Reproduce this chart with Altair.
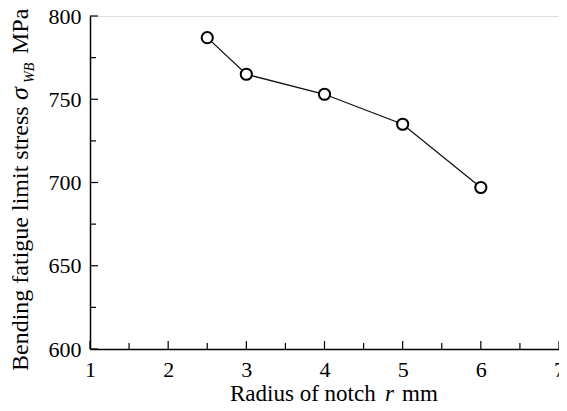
import altair as alt
import pandas as pd

# ---- data ----
radius = [2.5, 3, 4, 5, 6]
stress = [787, 765, 753, 735, 697]
x_ticks_major = [1, 2, 3, 4, 5, 6, 7]
x_ticks_minor = [1.5, 2.5, 3.5, 4.5, 5.5, 6.5]
y_ticks_major = [600, 650, 700, 750, 800]
y_ticks_minor = [625, 675, 725, 775]
x_title_parts = ["Radius of notch", "r", "mm"]
y_title_parts = ["Bending fatigue limit stress", "σ", "WB", "MPa"]

W, H = 469, 333
FONT = "Liberation Serif"
TSIZE = 23

df = pd.DataFrame({"r": radius, "s": stress})
xs = alt.Scale(domain=[1, 7], nice=False, zero=False)
ys = alt.Scale(domain=[600, 800], nice=False, zero=False)

xaxis = alt.Axis(values=x_ticks_major, tickSize=0, grid=False, labelFont=FONT,
                 labelFontSize=22, labelColor="black", labelPadding=10,
                 labelFlush=False, labelOverlap=False, domainColor="black",
                 domainWidth=1.5, title=None, format="d")
yaxis = alt.Axis(values=y_ticks_major, tickSize=0, grid=False, labelFont=FONT,
                 labelFontSize=22, labelColor="black", labelPadding=9,
                 labelFlush=False, labelOverlap=False, domainColor="black",
                 domainWidth=1.5, title=None, format="d")


def X(field):
    return alt.X(field, scale=xs, axis=xaxis)


def Y(field):
    return alt.Y(field, scale=ys, axis=yaxis)


line = alt.Chart(df).mark_line(color="#111", strokeWidth=1.3).encode(x=X("r:Q"), y=Y("s:Q"))
pts = alt.Chart(df).mark_point(shape="circle", filled=True, size=125, color="white",
                               stroke="black", strokeWidth=2, opacity=1).encode(
    x=X("r:Q"), y=Y("s:Q"))


def xticks(vals, length):
    return alt.Chart(pd.DataFrame({"v": vals})).mark_rule(color="black", strokeWidth=1.2).encode(
        x=X("v:Q"), y=alt.value(H), y2=alt.value(H - length))


def yticks(vals, length):
    return alt.Chart(pd.DataFrame({"v": vals})).mark_rule(color="black", strokeWidth=1.2).encode(
        y=Y("v:Q"), x=alt.value(0), x2=alt.value(length))


def txt(s, x, y, size=TSIZE, angle=0, style="normal"):
    return alt.Chart(pd.DataFrame({"t": [s]})).mark_text(
        font=FONT, fontSize=size, fontStyle=style, angle=angle, align="left",
        baseline="alphabetic", color="black").encode(
        text="t:N", x=alt.value(x), y=alt.value(y))


titles = [
    txt(x_title_parts[0], 140, 385),
    txt(x_title_parts[1], 295, 385, style="italic"),
    txt(x_title_parts[2], 312, 385),
    txt(y_title_parts[0], -62, 355, size=24, angle=270),
    txt(y_title_parts[1], -62, 84, size=26, angle=270, style="italic"),
    txt(y_title_parts[2], -56, 67, size=14, angle=270, style="italic"),
    txt(y_title_parts[3], -62, 38, size=24, angle=270),
]

chart = alt.layer(
    xticks(x_ticks_major, 8), xticks(x_ticks_minor, 6),
    yticks(y_ticks_major, 8), yticks(y_ticks_minor, 6),
    line, pts, *titles
).properties(
    width=W, height=H,
    padding={"left": 82, "top": 8, "right": 0, "bottom": 53},
    autosize=alt.AutoSizeParams(type="none"),
).configure_view(stroke="#333", strokeWidth=1.5).configure(background="white")

chart.save("out.html", embed_options={"renderer": "svg", "actions": False})
